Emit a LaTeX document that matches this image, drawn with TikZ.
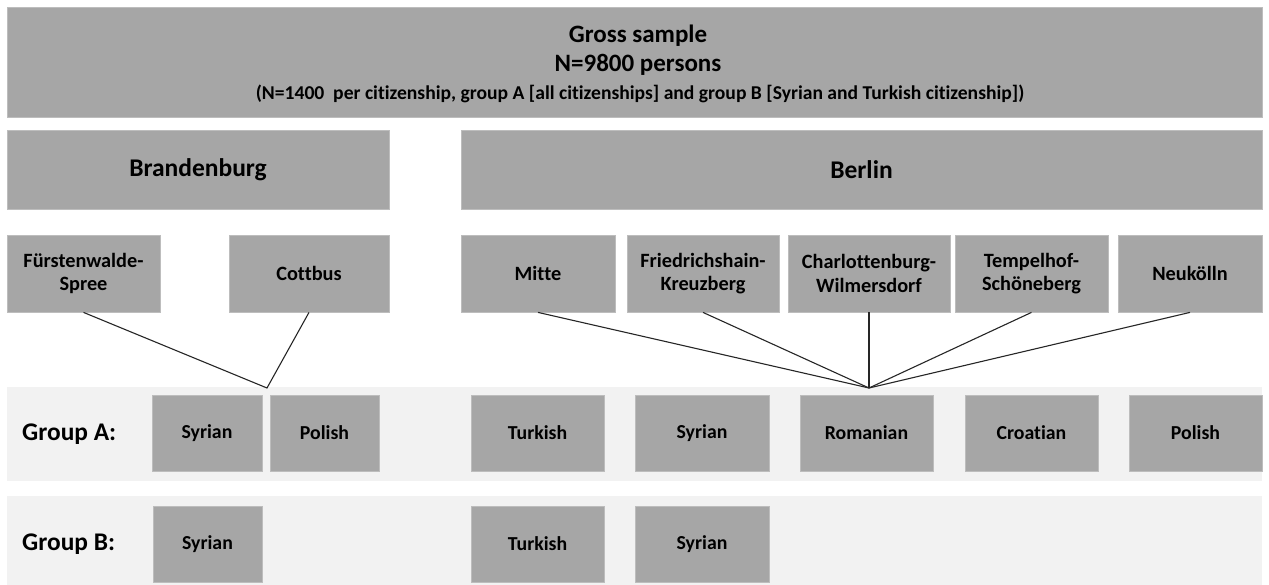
\documentclass[tikz,border=0pt]{standalone}
\usepackage{fontspec}
\setmainfont[Ligatures=NoCommon]{Carlito}
\definecolor{boxgray}{HTML}{A6A6A6}
\definecolor{boxedge}{HTML}{BDBDBD}
\definecolor{bandgray}{HTML}{F2F2F2}
\definecolor{linegray}{HTML}{262626}
\tikzset{
  gbox/.style={fill=boxgray, draw=boxedge, line width=0.8bp, inner sep=0pt, align=center, font=\bfseries},
  band/.style={fill=bandgray, draw=none},
  conn/.style={draw=linegray, line width=1.1bp},
  titletext/.style={anchor=base, inner sep=0pt, font=\fontsize{25bp}{29bp}\selectfont\bfseries},
  subtext/.style={anchor=base, inner sep=0pt, font=\fontsize{19.6bp}{23bp}\selectfont\bfseries},
  statefont/.style={font=\fontsize{25.5bp}{29bp}\selectfont\bfseries},
  grouplabel/.style={anchor=west, inner sep=0pt, font=\fontsize{25.4bp}{29bp}\selectfont\bfseries},
  distfont/.style={font=\fontsize{20.3bp}{23.5bp}\selectfont\bfseries},
  natfont/.style={font=\fontsize{19.8bp}{23bp}\selectfont\bfseries}
}
\begin{document}
\begin{tikzpicture}[x=1bp, y=-1bp]
\useasboundingbox[fill=white] (0,0) rectangle (1269,585);
% top box
\node[gbox, minimum width=1255bp, minimum height=110bp] (gross) at (634.5,62) {};
\node[titletext] (grossA) at (638,43) {Gross sample};
\node[titletext] (grossB) at (638,72) {N=9800 persons};
\node[subtext] (grossC) at (640,100) {(N=1400\ \ per citizenship, group A [all citizenships] and group B [Syrian and Turkish citizenship])};
% states
\node[gbox, statefont, minimum width=382bp, minimum height=79bp] (brb) at (198,170) {Brandenburg};
\node[gbox, statefont, minimum width=801bp, minimum height=79bp] (ber) at (861.5,170) {Berlin};
% districts
\begin{scope}[every node/.style={gbox, distfont, minimum height=77bp}]
\node[minimum width=153bp] (fue) at (83.5,273.5) {Fürstenwalde-\\Spree};
\node[minimum width=160bp] (cot) at (309,273.5) {Cottbus};
\node[minimum width=154bp] (mit) at (538,273.5) {Mitte};
\node[minimum width=152bp] (fri) at (703,273.5) {Friedrichshain-\\Kreuzberg};
\node[minimum width=162bp] (cha) at (869,273.5) {Charlottenburg-\\Wilmersdorf};
\node[minimum width=153bp] (tem) at (1031.5,273.5) {Tempelhof-\\Schöneberg};
\node[minimum width=144bp] (neu) at (1190,273.5) {Neukölln};
\end{scope}
% bands
\fill[band] (7,387) rectangle (1262,481);
\fill[band] (7,496) rectangle (1262,585);
\coordinate (bcon) at (267,388);
\coordinate (ccon) at (869,388);
% connectors
\draw[conn] (fue.south) -- (bcon) -- (cot.south);
\foreach \d in {mit,fri,cha,tem,neu} \draw[conn] (\d.south) -- (ccon);
% group labels
\node[grouplabel] (ga) at (22,434) {Group A:};
\node[grouplabel] (gb) at (22,544) {Group B:};
% group A
\begin{scope}[every node/.style={gbox, natfont, minimum height=76bp}]
\node[minimum width=110bp] (a1) at (207,433) {Syrian};
\node[minimum width=109bp] (a2) at (324.5,433) {Polish};
\node[minimum width=133bp] (a3) at (537.5,433) {Turkish};
\node[minimum width=134bp] (a4) at (702,433) {Syrian};
\node[minimum width=133bp] (a5) at (866.5,433) {Romanian};
\node[minimum width=133bp] (a6) at (1031.5,433) {Croatian};
\node[minimum width=133bp] (a7) at (1195.5,433) {Polish};
% group B
\node[minimum width=109bp] (b1) at (207.5,544) {Syrian};
\node[minimum width=133bp] (b2) at (537.5,544) {Turkish};
\node[minimum width=134bp] (b3) at (702,544) {Syrian};
\end{scope}
\end{tikzpicture}
\end{document}
